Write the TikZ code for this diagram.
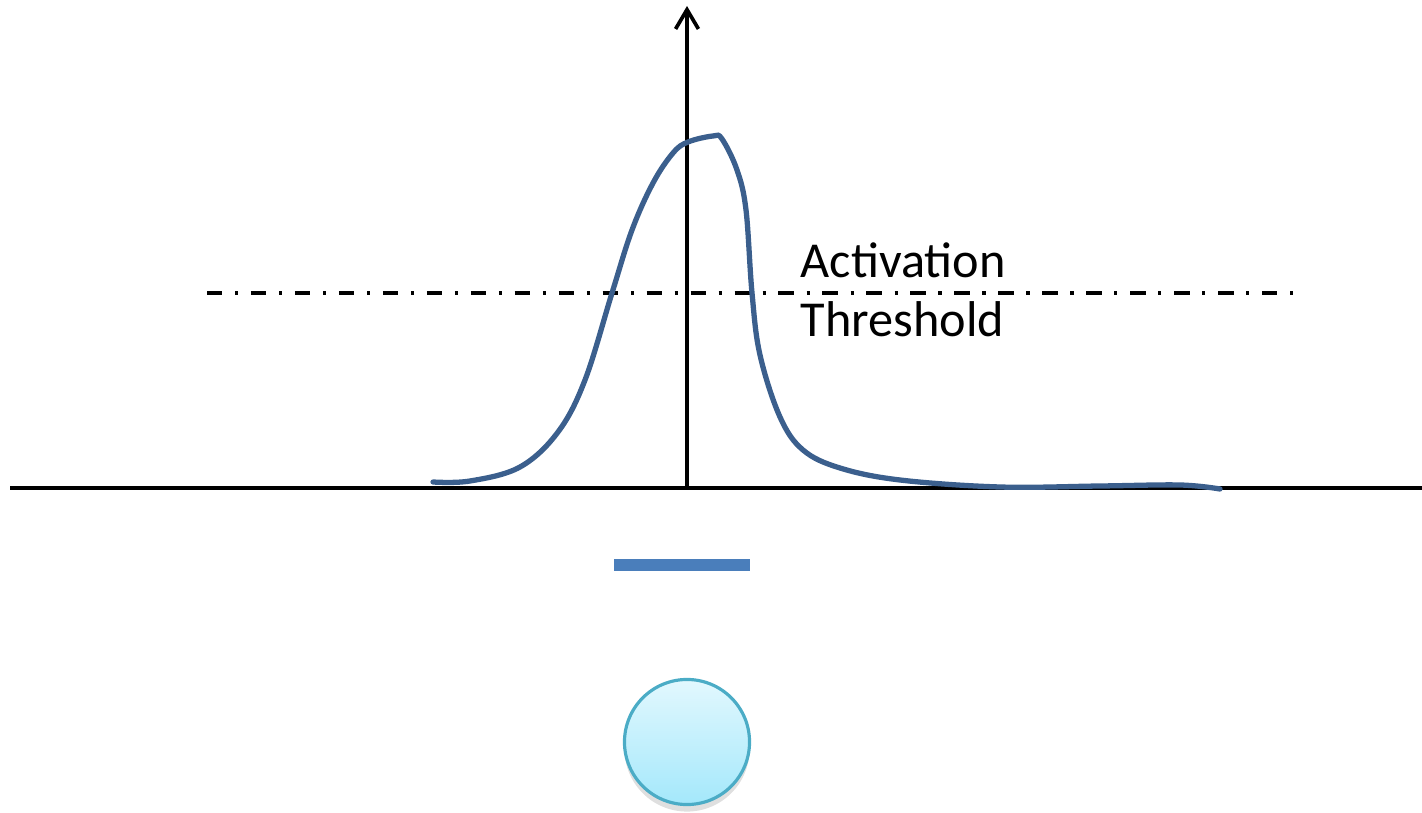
\documentclass[tikz,border=0pt]{standalone}
\usepackage{fontspec}
\setmainfont{Carlito}
\usepackage{tikz}
\usetikzlibrary{calc,positioning,arrows.meta,shadows}
\definecolor{spikeblue}{HTML}{3B5F8D}
\definecolor{barblue}{HTML}{4A7EBB}
\definecolor{cellrim}{HTML}{4BACC6}
\definecolor{celltop}{HTML}{E2F8FE}
\definecolor{cellbot}{HTML}{A4E8FB}

\begin{document}
\begin{tikzpicture}[x=0.01cm, y=-0.01cm,
  axis/.style={black, line width=1.05pt},
  thresh/.style={black, line width=1pt, dash pattern=on 4.4pt off 3.6pt on 0.9pt off 3.6pt},
  spike/.style={spikeblue, line width=1.5pt, line cap=round},
  label/.style={font=\fontsize{14.3}{17}\selectfont, align=left, inner sep=0pt}
]
  \useasboundingbox (0,0) rectangle (1422,813);

  % axes
  \coordinate (xl) at (10,488);
  \coordinate (xr) at (1422,488);
  \coordinate (origin) at (687,488);
  \coordinate (ytop) at (687,6);
  \draw[axis] (xl) -- (xr);
  \draw[axis, -{Straight Barb[length=5.5pt, width=6.5pt]}] (origin) -- (ytop);

  % threshold line
  \coordinate (tl) at (207,293);
  \coordinate (tr) at (1296,293);
  \draw[thresh] (tl) -- (tr);
  \node[label, anchor=base west] (thr) at (800,337) {Activation\\Threshold};

  % action potential
  \draw[spike] plot[smooth, tension=0.6] coordinates {
    (433,482) (470,481) (520,467) (558,432) (585,380) (612,293)
    (632,230) (653,183) (673,153) (688,142) (713,136) (722,139)
    (737,170) (746,210) (752,293) (760,355) (780,417) (803,450)
    (840,468) (900,480) (1000,487) (1100,486) (1180,485) (1220,489)};

  % stimulus bar and cell
  \node[fill=barblue, minimum width=1.35cm, minimum height=0.12cm, inner sep=0pt] (bar) at (682,565) {};
  \node[circle, draw=cellrim, line width=0.9pt, minimum size=1.25cm, top color=celltop, bottom color=cellbot,
    drop shadow={opacity=0.25, shadow xshift=0pt, shadow yshift=-2pt}] (cell) at (687,742) {};
\end{tikzpicture}
\end{document}
